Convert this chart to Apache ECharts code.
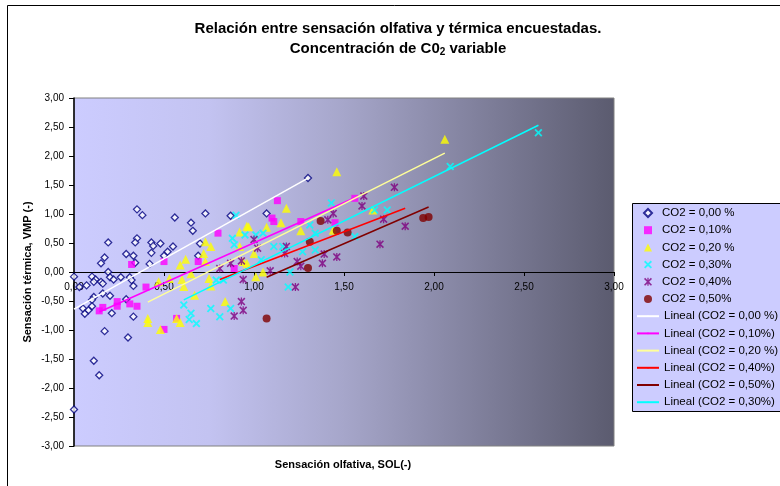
<!DOCTYPE html>
<html>
<head>
<meta charset="utf-8">
<script src="https://cdn.jsdelivr.net/npm/echarts@6/dist/echarts.min.js"></script>
<style>
html,body{margin:0;padding:0;background:#fff;}
#c{width:780px;height:486px;}
</style>
</head>
<body>
<div id="c"></div>
<script>
// ---------- DATA (SOL, VMP) ----------
var co2_000 = [[0.35,1.08],[0.38,0.98],[0.56,0.94],[0.73,1.01],[0.87,0.97],[0.65,0.85],[0.66,0.71],[0.19,0.51],[0.35,0.58],[0.34,0.51],[0.43,0.51],[0.44,0.45],[0.48,0.49],[0.55,0.44],[0.52,0.35],[0.50,0.28],[0.43,0.33],[0.29,0.31],[0.33,0.28],[0.17,0.25],[0.15,0.15],[0.34,0.16],[0.42,0.14],[0.69,0.28],[0.70,0.49],[0.00,-0.08],[0.19,0.00],[0.10,-0.08],[0.12,-0.13],[0.11,-0.17],[0.15,-0.17],[0.16,-0.20],[0.20,-0.09],[0.22,-0.13],[0.26,-0.09],[0.31,-0.09],[0.32,-0.14],[0.33,-0.24],[0.03,-0.26],[0.07,-0.23],[0.16,-0.37],[0.20,-0.41],[0.11,-0.43],[0.10,-0.48],[0.29,-0.47],[0.05,-0.63],[0.10,-0.59],[0.08,-0.66],[0.06,-0.72],[0.21,-0.71],[0.33,-0.77],[0.17,-1.02],[0.30,-1.13],[0.11,-1.53],[0.14,-1.78],[0.00,-2.37],[1.30,1.62],[1.07,1.01]];
var co2_010 = [[0.80,0.67],[0.32,0.13],[0.50,0.18],[0.69,0.18],[0.40,-0.26],[0.24,-0.51],[0.24,-0.59],[0.16,-0.61],[0.14,-0.67],[0.31,-0.55],[0.35,-0.59],[0.57,-0.80],[0.89,0.06],[0.50,-0.99],[1.13,1.23],[1.56,1.27],[1.10,0.93],[1.11,0.87],[1.26,0.87],[1.45,0.85]];
var co2_020 = [[0.92,0.69],[0.97,0.78],[0.73,0.52],[0.76,0.44],[0.92,0.44],[0.62,0.22],[0.59,0.12],[0.72,0.32],[0.73,0.18],[0.53,-0.11],[0.47,-0.17],[0.60,-0.13],[0.65,-0.03],[0.75,-0.11],[0.61,-0.25],[0.76,-0.24],[0.67,-0.40],[0.84,-0.51],[1.01,-0.08],[0.94,0.18],[0.41,-0.80],[0.41,-0.87],[0.48,-0.99],[0.57,-0.80],[0.59,-0.87],[1.46,1.73],[1.18,1.10],[2.06,2.29],[0.96,0.79],[1.07,0.77],[1.15,0.85],[1.26,0.71],[1.44,0.72],[1.00,0.32],[0.96,0.15],[1.05,0.00],[1.66,1.07]];
var co2_030 = [[0.90,0.98],[0.88,0.58],[0.89,0.47],[1.01,0.64],[0.79,-0.14],[0.83,-0.14],[0.76,-0.63],[0.61,-0.57],[0.87,-0.63],[0.65,-0.71],[0.81,-0.77],[0.68,-0.89],[0.64,-0.82],[1.43,1.19],[1.74,1.07],[1.67,1.07],[1.05,0.67],[1.31,0.81],[1.34,0.67],[1.11,0.44],[1.16,0.44],[1.27,0.35],[1.34,0.38],[1.56,0.61],[1.04,0.21],[1.20,0.00],[1.19,-0.26],[0.95,0.64],[2.58,2.40],[2.09,1.82]];
var co2_040 = [[1.78,1.46],[1.61,1.31],[1.60,1.14],[1.41,0.90],[1.44,1.01],[1.72,0.91],[1.84,0.79],[1.00,0.56],[1.02,0.41],[1.18,0.44],[1.17,0.32],[1.39,0.31],[1.70,0.48],[1.24,0.18],[1.38,0.15],[1.46,0.26],[1.26,0.10],[1.09,0.02],[1.23,-0.26],[0.93,0.19],[0.94,-0.13],[0.94,-0.66],[0.93,-0.51],[0.89,-0.76],[0.81,0.06],[0.87,0.15]];
var co2_050 = [[1.37,0.88],[1.46,0.71],[1.52,0.68],[1.31,0.52],[1.30,0.07],[1.94,0.93],[1.97,0.95],[1.07,-0.80]];

// trendline endpoints
var trend_000 = [[0.00,-0.64],[1.30,1.62]];
var trend_010 = [[0.14,-0.69],[1.56,1.28]];
var trend_020 = [[0.41,-0.52],[2.06,2.05]];
var trend_040 = [[0.81,-0.13],[1.84,1.10]];
var trend_050 = [[1.07,-0.09],[1.97,1.12]];
var trend_030 = [[0.61,-0.48],[2.58,2.53]];

var scatterNames = ['CO2 = 0,00 %','CO2 = 0,10%','CO2 = 0,20 %','CO2 = 0,30%','CO2 = 0,40%','CO2 = 0,50%'];
var lineNames = ['Lineal (CO2 = 0,00 %)','Lineal (CO2 = 0,10%)','Lineal (CO2 = 0,20 %)','Lineal (CO2 = 0,40%)','Lineal (CO2 = 0,50%)','Lineal (CO2 = 0,30%)'];
var titleText = 'Relación entre sensación olfativa y térmica encuestadas.';
var subtitlePre = 'Concentración de C0', subtitleSub = '2', subtitlePost = ' variable';
var xTitle = 'Sensación olfativa, SOL(-)';
var yTitle = 'Sensación térmica, VMP (-)';

// ---------- STYLE ----------
var FONT = '"Liberation Sans", Arial, sans-serif';
var xPath = 'path://M0,1.6L1.6,0L5,3.4L8.4,0L10,1.6L6.6,5L10,8.4L8.4,10L5,6.6L1.6,10L0,8.4L3.4,5Z';
var starPath = 'path://M0,1.4L1.4,0L5,3.6L8.6,0L10,1.4L6.4,5L10,8.6L8.6,10L5,6.4L1.4,10L0,8.6L3.6,5ZM4.2,0L5.8,0L5.8,10L4.2,10Z';

function fmt(v){ return v.toFixed(2).replace('.', ','); }

var scatterData = [co2_000, co2_010, co2_020, co2_030, co2_040, co2_050];
var scatterStyle = [
  {symbol:'diamond', size:7, item:{color:'#FFFFFF', borderColor:'#000080', borderWidth:1.3}},
  {symbol:'rect', size:7, item:{color:'#FF00FF'}},
  {symbol:'triangle', size:9, item:{color:'#FFFF00'}},
  {symbol:xPath, size:8, item:{color:'#00FFFF'}},
  {symbol:starPath, size:8, item:{color:'#800080'}},
  {symbol:'circle', size:8, item:{color:'#800000'}}
];
var lineData = [trend_000, trend_010, trend_020, trend_040, trend_050, trend_030];
var lineColors = ['#FFFFFF','#FF00FF','#FFFF99','#FF0000','#800000','#00FFFF'];

var series = [];
scatterData.forEach(function(d,i){
  series.push({
    name: scatterNames[i], type:'scatter', data:d,
    symbol: scatterStyle[i].symbol, symbolSize: scatterStyle[i].size,
    itemStyle: scatterStyle[i].item, z: 3, animation:false
  });
});
lineData.forEach(function(d,i){
  series.push({
    name: lineNames[i], type:'line', data:d, symbol:'none', showSymbol:false,
    lineStyle:{color:lineColors[i], width:1.5}, itemStyle:{color:lineColors[i]},
    z: 4, animation:false, silent:true
  });
});

var chart = echarts.init(document.getElementById('c'), null, {renderer:'canvas'});
chart.setOption({
  backgroundColor:'#FFFFFF',
  animation:false,
  title:{
    text: titleText + '\n' + subtitlePre + '{sub|' + subtitleSub + '}' + subtitlePost,
    left: 393, top: 14, textAlign:'center',
    textStyle:{fontFamily:FONT, fontSize:15, fontWeight:'bold', color:'#000', lineHeight:20,
      rich:{sub:{fontFamily:FONT, fontSize:10, fontWeight:'bold', color:'#000', padding:[7,0,0,0]}}}
  },
  grid:{left:74, right:166, top:98, bottom:40, show:true,
    backgroundColor:{type:'linear', x:0, y:0, x2:1, y2:0, colorStops:[
      {offset:0, color:'#CCCCFF'},{offset:0.25, color:'#C3C3F1'},{offset:0.5, color:'#A6A6CA'},
      {offset:0.75, color:'#80809C'},{offset:1, color:'#5B5B6F'}]},
    borderColor:'#808080', borderWidth:1},
  xAxis:{type:'value', min:0, max:3, interval:0.5, position:'bottom', offset:-174,
    axisLine:{onZero:true, onZeroAxisIndex:0, lineStyle:{color:'#000', width:1}},
    axisTick:{show:true, inside:false, length:4, lineStyle:{color:'#000'}},
    axisLabel:{formatter:fmt, fontFamily:FONT, fontSize:10, color:'#000', margin:10},
    splitLine:{show:false}},
  yAxis:{type:'value', min:-3, max:3, interval:0.5, position:'left',
    axisLine:{show:true, onZero:false, lineStyle:{color:'#000', width:1.5}},
    axisTick:{show:true, inside:false, length:5, lineStyle:{color:'#000'}},
    axisLabel:{formatter:fmt, fontFamily:FONT, fontSize:10, color:'#000', margin:10},
    splitLine:{show:false}},
  legend:[
    {data:scatterNames, orient:'vertical', left:643, top:206.5, padding:0,
     itemWidth:8, itemHeight:8, itemGap:4.2, z:10,
     textStyle:{fontFamily:FONT, fontSize:11.5, color:'#000', lineHeight:13, padding:[0,0,0,5]},
     selectedMode:false},
    {data:lineNames, orient:'vertical', left:636, top:309.7, padding:0,
     itemWidth:22, itemHeight:2, itemGap:4.2, z:10,
     textStyle:{fontFamily:FONT, fontSize:11.5, color:'#000', lineHeight:13},
     selectedMode:false}
  ],
  graphic:[
    {type:'rect', z:-10, silent:true, shape:{x:7.5, y:5.5, width:800, height:500}, style:{fill:'none', stroke:'#000', lineWidth:1}},
    {type:'rect', z:1, silent:true, shape:{x:632.5, y:203.5, width:160, height:208}, style:{fill:'#CCCCFF', stroke:'#000', lineWidth:1}},
    {type:'text', silent:true, x:343, y:465, style:{text:xTitle, textAlign:'center', textVerticalAlign:'middle', font:'bold 11px ' + FONT, fill:'#000'}},
    {type:'text', silent:true, rotation:Math.PI/2, x:28, y:272, style:{text:yTitle, textAlign:'center', textVerticalAlign:'middle', font:'bold 11px ' + FONT, fill:'#000'}}
  ],
  series: series
});
</script>
</body>
</html>
